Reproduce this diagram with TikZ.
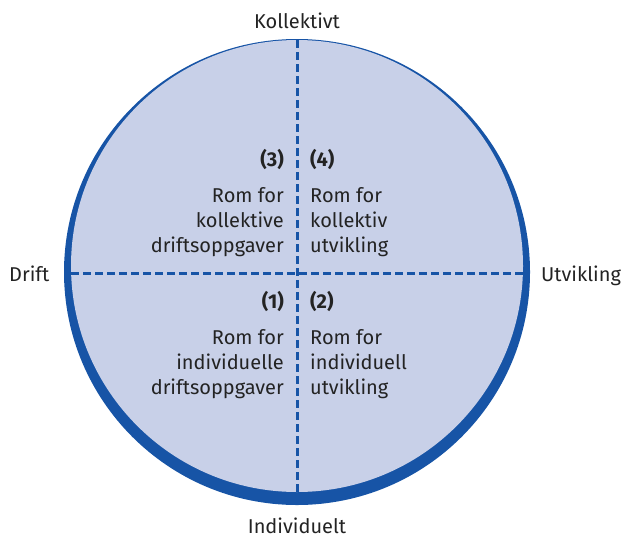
\documentclass[tikz,border=0pt]{standalone}
\usepackage{fontspec}
\setmainfont{Fira Sans}
\definecolor{ringblue}{RGB}{23,84,166}
\definecolor{discfill}{RGB}{200,208,232}
\definecolor{txt}{RGB}{35,35,35}
\begin{document}
\begin{tikzpicture}[x=1pt,y=-1pt,
  lbl/.style={font=\fontsize{20}{25}\selectfont, text=txt, inner sep=0pt},
  num/.style={font=\fontsize{20}{25}\selectfont\bfseries, text=txt, inner sep=0pt},
  divider/.style={ringblue, line width=3pt, dash pattern=on 8pt off 4pt}]
\useasboundingbox (0,0) rectangle (628,538);
% ring and disc
\fill[ringblue] (297,272) circle[radius=233];
\fill[discfill] (297,266) circle[radius=226];
% axes
\coordinate (vtop) at (297,40);
\coordinate (vbot) at (297,492);
\coordinate (hleft) at (71,273);
\coordinate (hright) at (523,273);
\draw[divider] (vtop) -- (vbot);
\draw[divider] (hleft) -- (hright);
% axis labels
\node[lbl, anchor=base] (kol) at (297,28) {Kollektivt};
\node[lbl, anchor=base] (ind) at (297,533) {Individuelt};
\node[lbl, anchor=base west] (drift) at (9,281) {Drift};
\node[lbl, anchor=base west] (utv) at (541,281) {Utvikling};
% quadrant 3
\node[num, anchor=base east] (n3) at (284,166) {(3)};
\node[lbl, anchor=base east, align=right] (t3) at (284,252) {Rom for\\kollektive\\driftsoppgaver};
% quadrant 4
\node[num, anchor=base west] (n4) at (310,166) {(4)};
\node[lbl, anchor=base west, align=left] (t4) at (310,252) {Rom for\\kollektiv\\utvikling};
% quadrant 1
\node[num, anchor=base east] (n1) at (284,308) {(1)};
\node[lbl, anchor=base east, align=right] (t1) at (284,394) {Rom for\\individuelle\\driftsoppgaver};
% quadrant 2
\node[num, anchor=base west] (n2) at (310,308) {(2)};
\node[lbl, anchor=base west, align=left] (t2) at (310,394) {Rom for\\individuell\\utvikling};
\end{tikzpicture}
\end{document}
